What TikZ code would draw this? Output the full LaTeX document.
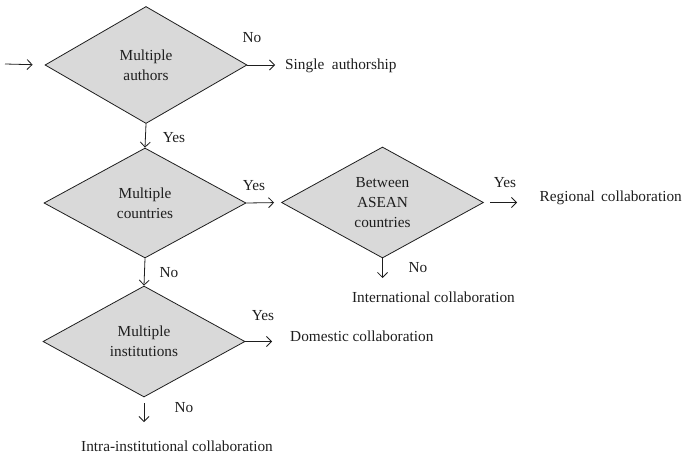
\documentclass[tikz,border=0pt]{standalone}
\usepackage{fontspec}
\setmainfont{Liberation Serif}
\usetikzlibrary{shapes.geometric,arrows.meta}
\definecolor{diafill}{RGB}{217,217,217}
\definecolor{ink}{RGB}{30,30,30}
\tikzset{
  decision/.style={shape=diamond, draw=ink, fill=diafill, line width=0.8pt,
    inner sep=0pt, align=center, text=ink},
  txt/.style={font=\fontsize{15.3}{20}\selectfont, text=ink, inner sep=0pt},
  arr/.style={draw=ink, line width=0.8pt, -{Straight Barb[length=5pt,width=10pt]}}
}
\begin{document}
\begin{tikzpicture}[x=1pt,y=-1pt]
\useasboundingbox (0,0) rectangle (684,454);
% decisions
\node[decision, txt, minimum width=202pt, minimum height=117pt] (d1) at (146,65) {Multiple\\authors};
\node[decision, txt, minimum width=202pt, minimum height=110pt] (d2) at (145,203) {Multiple\\countries};
\node[decision, txt, minimum width=202pt, minimum height=111pt] (d3) at (382.5,202.5) {Between\\ASEAN\\countries};
\node[decision, txt, minimum width=202pt, minimum height=111pt] (d4) at (144,341.5) {Multiple\\institutions};
% outcomes
\node[txt, anchor=west] (single) at (285,66) {Single\hspace{0.5em}authorship};
\node[txt, anchor=east] (regional) at (682,198) {Regional\hspace{0.4em}collaboration};
\node[txt] (intl) at (433.5,297) {International collaboration};
\node[txt, anchor=west] (domestic) at (290,336) {Domestic collaboration};
\node[txt] (intra) at (177,446) {Intra-institutional collaboration};
% free ends
\coordinate (start) at (5,64);
\coordinate (e1) at (275,65);
\coordinate (e3s) at (490,202.5);
\coordinate (e3) at (517,202.5);
\coordinate (s3) at (382.5,278);
\coordinate (e4) at (272,341.5);
\coordinate (s4a) at (144,403);
\coordinate (s4) at (144,422);
% connectors
\draw[arr, shorten >=12pt] (start) -- (d1.west);
\draw[arr] (d1.east) -- (e1);
\draw[arr] (d1.south) -- (d2.north);
\draw[arr, shorten >=7pt] (d2.east) -- (d3.west);
\draw[arr] (d2.south) -- (d4.north);
\draw[arr] (e3s) -- (e3);
\draw[arr] (d3.south) -- (s3);
\draw[arr] (d4.east) -- (e4);
\draw[arr] (s4a) -- (s4);
% labels
\node[txt] (l1) at (252,38) {No};
\node[txt] (l2) at (174,138) {Yes};
\node[txt] (l3) at (254,186) {Yes};
\node[txt] (l4) at (169,273) {No};
\node[txt] (l5) at (505,183) {Yes};
\node[txt] (l6) at (418,268) {No};
\node[txt] (l7) at (263,316) {Yes};
\node[txt] (l8) at (184,408) {No};
\end{tikzpicture}
\end{document}
